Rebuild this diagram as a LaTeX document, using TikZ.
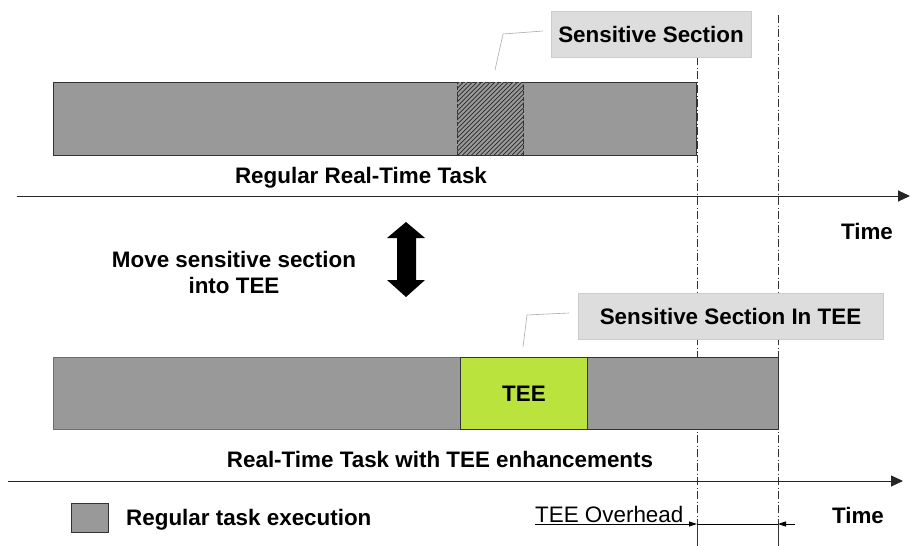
\documentclass[tikz,border=0pt]{standalone}
\usepackage{fontspec}
\setmainfont{Liberation Sans}
\usetikzlibrary{arrows.meta}

\definecolor{taskgray}{RGB}{153,153,153}
\definecolor{edgegray}{RGB}{51,51,51}
\definecolor{teegreen}{RGB}{187,227,61}
\definecolor{notefill}{RGB}{221,221,221}
\definecolor{noteedge}{RGB}{204,204,204}
\definecolor{leaderline}{RGB}{170,170,170}
\definecolor{bluerim}{RGB}{79,114,170}

\tikzset{
  blk/.style={draw=edgegray, fill=taskgray, line width=0.8pt, inner sep=0pt, anchor=north west},
  note/.style={draw=noteedge, fill=notefill, line width=0.8pt, inner sep=0pt},
  leader/.style={draw=leaderline, line width=0.6pt},
  axis/.style={draw=black!85, line width=1pt, -{Triangle[length=12pt,width=11pt]}},
  marker/.style={draw=edgegray, line width=0.8pt, dash pattern=on 8pt off 2.5pt on 1pt off 2.5pt},
  markersolid/.style={draw=edgegray, line width=0.8pt},
  dimtip/.style={draw=black, line width=0.8pt, -{Triangle[length=8pt,width=5pt]}},
  hatchline/.style={draw=black!85, line width=0.7pt},
  label/.style={inner sep=0pt, font=\fontsize{22.4}{26}\selectfont\bfseries},
  plainlabel/.style={inner sep=0pt, font=\fontsize{22.4}{26}\selectfont},
}

\begin{document}
\begin{tikzpicture}[x=1pt,y=-1pt]
\useasboundingbox (0,0) rectangle (910,546);

% time markers (deadline and TEE-enhanced finish)
\coordinate (m1top) at (697,15);
\coordinate (m1mid) at (697,524);
\coordinate (m1bot) at (697,546);
\coordinate (m2top) at (778,15);
\coordinate (m2mid) at (778,524);
\coordinate (m2bot) at (778,546);
\draw[marker] (m1top) -- (m1mid);
\draw[markersolid] (m1mid) -- (m1bot);
\draw[marker] (m2top) -- (m2mid);
\draw[markersolid] (m2mid) -- (m2bot);

% regular real-time task
\node[blk, minimum width=643pt, minimum height=73pt] (bar1) at (53,82) {};
\node[blk, draw=none, minimum width=66pt, minimum height=73pt] (hatch) at (457,82) {};
% rising hatch inside the sensitive section
\begin{scope}
  \clip (hatch.south west) rectangle (hatch.north east);
  \foreach \k in {-80,-75.5,...,70}
    \draw[hatchline] (457+\k,155) -- ++(73,-73);
\end{scope}
\draw[draw=edgegray, line width=0.8pt, dash pattern=on 4pt off 2pt]
  (hatch.south west) rectangle (hatch.north east);

% real-time task with TEE
\node[blk, draw=bluerim, minimum width=407pt, minimum height=72pt] (bar2a) at (53,357) {};
\node[blk, fill=teegreen, minimum width=127pt, minimum height=72pt] (tee) at (460,357) {};
\node[label] at (tee.center) {TEE};
\node[blk, minimum width=191pt, minimum height=72pt] (bar2b) at (587,357) {};

% callouts
\node[note, minimum width=200pt, minimum height=46pt] (note1) at (651,34) {};
\node[label] at (note1.center) {Sensitive Section};
\node[note, minimum width=305pt, minimum height=46pt] (note2) at (730.5,316) {};
\node[label] at (note2.center) {Sensitive Section In TEE};

\coordinate (l1a) at (543,31);
\coordinate (l1b) at (503,34);
\coordinate (l1c) at (495,70);
\draw[leader] (l1a) -- (l1b) -- (l1c);
\coordinate (l2a) at (569,313);
\coordinate (l2b) at (527,315);
\coordinate (l2c) at (523,347);
\draw[leader] (l2a) -- (l2b) -- (l2c);

% time axes
\coordinate (ax1s) at (17,196);
\coordinate (ax1e) at (910,196);
\draw[axis] (ax1s) -- (ax1e);
\coordinate (ax2s) at (8,481);
\coordinate (ax2e) at (903,481);
\draw[axis] (ax2s) -- (ax2e);

% labels
\node[label] (lab1) at (361,178) {Regular Real-Time Task};
\node[label] (time1) at (867,231) {Time};
\node[label, align=center] (move) at (234,272) {Move sensitive section\\into TEE};
\node[label] (lab2) at (440,459) {Real-Time Task with TEE enhancements};
\node[label, anchor=base] (time2) at (858,523) {Time};

% move arrow
\fill[black] (397,238) -- (387,238) -- (406,222) -- (425,238) -- (416,238)
  -- (416,280) -- (425,280) -- (406,297) -- (387,280) -- (397,280) -- cycle;

% legend
\node[blk, minimum width=37pt, minimum height=29pt] (legend) at (71,503) {};
\node[label, anchor=base west] (legtext) at (126,525) {Regular task execution};

% TEE overhead dimension
\node[plainlabel, anchor=base west] (ovh) at (535,522) {TEE Overhead};
\coordinate (ovhs) at (535,524);
\draw[dimtip] (ovhs) -- (m1mid);
\draw[black, line width=0.8pt] (m1mid) -- (m2mid);
\coordinate (ovhe) at (795,524);
\draw[dimtip] (ovhe) -- (m2mid);
\end{tikzpicture}
\end{document}
